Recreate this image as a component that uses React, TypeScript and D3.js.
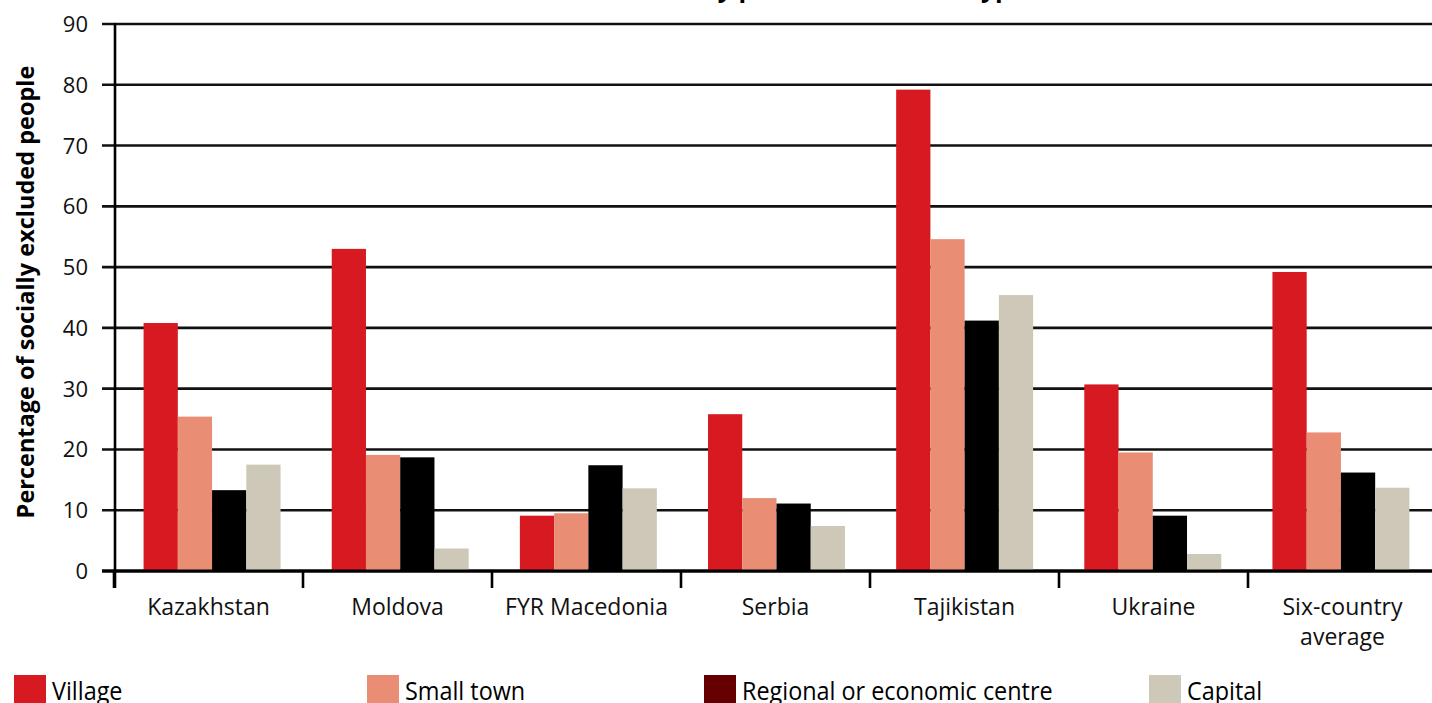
import React from 'react';
import * as d3 from 'd3';

const categories = ['Kazakhstan', 'Moldova', 'FYR Macedonia', 'Serbia', 'Tajikistan', 'Ukraine', 'Six-country average'];
const categoryLabelLines = [['Kazakhstan'], ['Moldova'], ['FYR Macedonia'], ['Serbia'], ['Tajikistan'], ['Ukraine'], ['Six-country', 'average']];
const seriesNames = ['Village', 'Small town', 'Regional or economic centre', 'Capital'];
const village = [40.8, 53.0, 9.1, 25.8, 79.2, 30.7, 49.2];
const smallTown = [25.4, 19.1, 9.5, 12.0, 54.6, 19.5, 22.8];
const regionalCentre = [13.3, 18.7, 17.4, 11.1, 41.2, 9.1, 16.2];
const capital = [17.5, 3.7, 13.6, 7.4, 45.4, 2.8, 13.7];
const yTickValues = [0, 10, 20, 30, 40, 50, 60, 70, 80, 90];
const titleText = 'Social exclusion by place of residence type';
const yAxisTitle = 'Percentage of socially excluded people';

const barColors = ['#d71a21', '#e98e74', '#000000', '#cec8b8'];
const legendColors = ['#d71a21', '#e98e74', '#660000', '#cec8b8'];

const W = 1432;
const H = 703;
const FONT = "'Open Sans', 'Noto Sans', sans-serif";

export default function App() {
  const seriesValues = [village, smallTown, regionalCentre, capital];
  const y = d3.scaleLinear().domain([0, 90]).range([571, 24]);
  const xTick = d3.scaleBand<string>().domain(categories).range([114, 1437]).padding(0);
  const xBar = d3.scaleBand<string>().domain(categories).range([118, 1435]).padding(0);
  const groupW = xBar.bandwidth() * 0.728;
  const xSeries = d3.scaleBand<string>().domain(seriesNames).range([0, groupW]).padding(0);
  const axisX = 115;
  const legendX = [14, 367, 704, 1149];

  return (
    <svg width={W} height={H} style={{ position: 'absolute', left: 0, top: 0, background: '#fff' }}>
      <text x={762} y={-3} textAnchor="middle" fontFamily={FONT} fontWeight="bold" fontSize={25} fill="#000">{titleText}</text>

      {/* gridlines */}
      {yTickValues.map((t) => (
        <line key={'g' + t} x1={102} x2={W} y1={y(t)} y2={y(t)} stroke="#111" strokeWidth={t === 0 ? 3 : 2.6} />
      ))}
      {yTickValues.map((t) => (
        <text key={'yl' + t} x={88} y={y(t) + 8} textAnchor="end" fontFamily={FONT} fontSize={22} fill="#111">{t}</text>
      ))}

      {/* bars */}
      {categories.map((c, ci) => (
        <g key={c} transform={`translate(${(xBar(c) as number) + (xBar.bandwidth() - groupW) / 2},0)`}>
          {seriesNames.map((s, si) => {
            const v = seriesValues[si][ci];
            return (
              <rect key={s} x={xSeries(s)} y={y(v)} width={xSeries.bandwidth()} height={y(0) - y(v)} fill={barColors[si]} />
            );
          })}
        </g>
      ))}

      {/* baseline and y axis */}
      <line x1={102} x2={W} y1={y(0)} y2={y(0)} stroke="#000" strokeWidth={3} />
      <line x1={axisX} x2={axisX} y1={y(90) - 1} y2={588} stroke="#000" strokeWidth={2.6} />

      {/* category ticks */}
      {categories.map((c) => (
        <line key={'t' + c} x1={xTick(c)} x2={xTick(c)} y1={y(0)} y2={588} stroke="#000" strokeWidth={2.6} />
      ))}
      {categories.map((c, ci) => (
        <text key={'xl' + c} x={(xTick(c) as number) + xTick.bandwidth() / 2} y={615} textAnchor="middle" fontFamily={FONT} fontSize={23} fill="#111">
          {categoryLabelLines[ci].map((line, li) => (
            <tspan key={li} x={(xTick(c) as number) + xTick.bandwidth() / 2} dy={li === 0 ? 0 : 30}>{line}</tspan>
          ))}
        </text>
      ))}

      {/* y axis title */}
      <text transform={`translate(34,292) rotate(-90)`} textAnchor="middle" fontFamily={FONT} fontWeight="bold" fontSize={23.5} fill="#000">{yAxisTitle}</text>

      {/* legend */}
      {seriesNames.map((s, si) => (
        <g key={'lg' + s} transform={`translate(${legendX[si]},675)`}>
          <rect x={0} y={0} width={32} height={32} fill={legendColors[si]} />
          <text x={38} y={25} transform="translate(38,0) scale(0.9,1) translate(-38,0)" fontFamily={FONT} fontSize={26} fill="#000">{s}</text>
        </g>
      ))}
    </svg>
  );
}
